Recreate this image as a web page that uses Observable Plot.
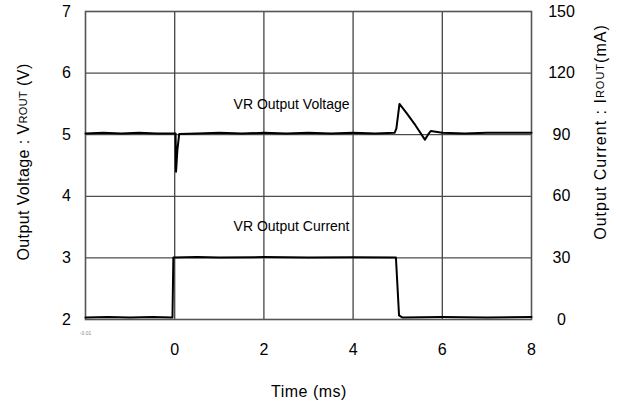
<!DOCTYPE html>
<html><head><meta charset="utf-8">
<script src="https://cdn.jsdelivr.net/npm/d3@7"></script>
<script src="https://cdn.jsdelivr.net/npm/@observablehq/plot@0.6"></script>
<style>body{margin:0;background:#fff}</style>
</head><body><div id="chart"></div>
<script>
// Output voltage trace (time in ms, volts)
const timeV   = [-2, -1.6, -1.2, -0.8, -0.4, -0.1, 0.02, 0.03, 0.06, 0.1, 0.5, 1, 1.5, 2, 2.5, 3, 3.5, 4, 4.5, 4.93, 4.97, 5.04, 5.2, 5.4, 5.61, 5.68, 5.74, 6, 6.5, 7, 7.5, 8];
const voltage = [5.02, 5.03, 5.02, 5.03, 5.02, 5.02, 5.02, 4.40, 4.75, 5.01, 5.02, 5.03, 5.02, 5.03, 5.02, 5.03, 5.02, 5.03, 5.02, 5.03, 5.10, 5.50, 5.35, 5.15, 4.92, 5.00, 5.06, 5.03, 5.02, 5.03, 5.03, 5.03];
// Output current trace (time in ms, mA)
const timeI     = [-2, -1.5, -1, -0.5, -0.05, -0.03, 0.5, 1, 2, 3, 4, 4.96, 5.03, 5.1, 6, 7, 8];
const currentMA = [1, 1.2, 1, 1.2, 1, 30.2, 30.4, 30.2, 30.4, 30.2, 30.3, 30.2, 2, 1, 1.2, 1, 1.2];

const xTicks = [0, 2, 4, 6, 8];
const vTicks = [2, 3, 4, 5, 6, 7];
const iTicks = [0, 30, 60, 90, 120, 150];
const hGrid = [3, 4, 5, 6];
const vGrid = [0, 2, 4, 6];

const labelText = ["VR Output Voltage", "VR Output Current"];
const labelX = [1.32, 1.32];
const labelY = [5.49, 3.51];

// current plotted on voltage axis: 0..150 mA ↔ 2..7 V
const iToV = d3.scaleLinear().domain([iTicks[0], iTicks[iTicks.length - 1]]).range([vTicks[0], vTicks[vTicks.length - 1]]);

const vData = timeV.map((t, i) => ({t, v: voltage[i]}));
const iData = timeI.map((t, i) => ({t, v: iToV(currentMA[i])}));
const labels = labelText.map((s, i) => ({s, x: labelX[i], y: labelY[i]}));

const font = "'Liberation Sans', Arial, sans-serif";
const svg = Plot.plot({
  width: 617, height: 408,
  marginLeft: 85, marginRight: 86, marginTop: 11, marginBottom: 89,
  style: {fontFamily: font, fontSize: "16px", background: "#fff", color: "#000"},
  x: {domain: [-2, 8]},
  y: {domain: [2, 7]},
  marks: [
    Plot.ruleY(hGrid, {stroke: "#222", strokeWidth: 1}),
    Plot.ruleX(vGrid, {stroke: "#444", strokeWidth: 1.3}),
    Plot.frame({stroke: "#555", strokeWidth: 1.6}),
    Plot.line(vData, {x: "t", y: "v", stroke: "#000", strokeWidth: 2}),
    Plot.line(iData, {x: "t", y: "v", stroke: "#000", strokeWidth: 2}),
    Plot.axisX({ticks: xTicks, tickSize: 0, tickPadding: 24, label: null, fontSize: 16, tickFormat: d => String(d)}),
    Plot.axisX({ticks: [-2], tickSize: 0, tickPadding: 12, tickFormat: () => "-0.01", fontSize: 5, fill: "#888", label: null}),
    Plot.axisY({ticks: vTicks, anchor: "left", tickSize: 0, tickPadding: 19, textAnchor: "middle", label: null, fontSize: 16,
      tickFormat: d => String(d)}),
    Plot.axisY({ticks: vTicks, anchor: "right", tickSize: 0, tickPadding: 30, textAnchor: "middle", label: null, fontSize: 16,
      tickFormat: d => String(iTicks[vTicks.indexOf(d)])}),
    Plot.text(labels, {x: "x", y: "y", text: "s", textAnchor: "start", fontSize: 14, fill: "#000"})
  ]
});

const s = d3.select(svg);
function title(x, y, main, sub, tail, ls) {
  const t = s.append("text")
    .attr("transform", `translate(${x},${y}) rotate(-90)`)
    .attr("text-anchor", "middle").attr("dominant-baseline", "central")
    .attr("font-family", font).attr("font-size", 16).attr("fill", "#000")
    .attr("letter-spacing", ls);
  t.append("tspan").text(main);
  t.append("tspan").attr("font-size", 11).text(sub);
  t.append("tspan").text(tail);
}
title(23, 162, "Output Voltage : V", "ROUT", " (V)", "0.4px");
title(600, 132, "Output Current : I", "ROUT", "(mA)", "1px");
s.append("text").attr("x", 309).attr("y", 397).attr("text-anchor", "middle")
  .attr("font-family", font).attr("font-size", 16).attr("fill", "#000")
  .attr("letter-spacing", "0.5px").text("Time (ms)");

document.getElementById("chart").appendChild(svg);
</script>
</body></html>
